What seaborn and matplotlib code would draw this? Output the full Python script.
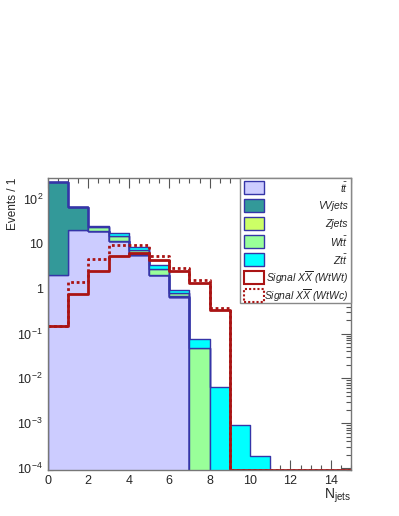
import numpy as np
import pandas as pd
import matplotlib
matplotlib.use("Agg")
import matplotlib.pyplot as plt
import seaborn as sns
from matplotlib.patches import Rectangle
from matplotlib.ticker import MultipleLocator, FuncFormatter, LogLocator, NullFormatter

# jet multiplicity bins 0..14 (bin width 1)
njets = np.arange(0, 15) + 0.5

# backgrounds (stacked, bottom to top)
ttbar = [2.0, 20.5, 19.0, 11.4, 5.6, 2.0, 0.66, 0, 0, 0, 0, 0, 0, 0, 0]
vvjets = [238, 46, 0.3, 0.1, 0.05, 0.02, 0.01, 0, 0, 0, 0, 0, 0, 0, 0]
zjets = [0, 0, 0.4, 0.4, 0.4, 0.05, 0.02, 0, 0, 0, 0, 0, 0, 0, 0]
wtt = [0, 0, 4.0, 3.2, 1.4, 0.7, 0.13, 0.047, 0, 0, 0, 0, 0, 0, 0]
ztt = [0, 0, 1.0, 2.3, 1.2, 0.55, 0.13, 0.028, 0.0064, 0.00092, 0.000187, 0, 0, 0, 0]

# signals
sig_wtwt = [0.144, 0.77, 2.52, 5.4, 6.2, 4.44, 2.48, 1.34, 0.33, 0, 0, 0, 0, 0, 0]
sig_wtwc = [0.144, 1.41, 4.67, 9.5, 9.5, 5.4, 2.95, 1.59, 0.38, 0, 0, 0, 0, 0, 0]

bkg_names = ["ttbar", "VVjets", "Zjets", "Wtt", "Ztt"]
bkg_labels = [r"$t\bar{t}$", "VVjets", "Zjets", r"$Wt\bar{t}$", r"$Zt\bar{t}$"]
bkg_colors = ["#ccccff", "#339999", "#ccff66", "#99ff99", "#00ffff"]
sig_labels = [r"Signal $X\overline{X}$ (WtWt)", r"Signal $X\overline{X}$ (WtWc)"]
edge_col = "#3535a8"
sig_col = "#aa1414"
dots = (0, (1, 1))

ymin, ymax = 9e-5, 295

sns.set_style("ticks")
plt.rcParams["font.family"] = ["Liberation Sans", "DejaVu Sans"]
plt.rcParams["mathtext.fontset"] = "custom"
plt.rcParams["mathtext.rm"] = "Liberation Sans"
plt.rcParams["mathtext.it"] = "Liberation Sans:italic"

rows = []
for name, vals in zip(bkg_names, [ttbar, vvjets, zjets, wtt, ztt]):
    for x, w in zip(njets, vals):
        rows.append({"njets": x, "weight": w, "process": name})
df = pd.DataFrame(rows)

fig = plt.figure(figsize=(3.99, 5.16), dpi=100)
ax = fig.add_axes([0.12, 0.089, 0.76, 0.566])

sns.histplot(data=df, x="njets", weights="weight", hue="process",
             hue_order=bkg_names[::-1], multiple="stack", binwidth=1, binrange=(0, 15),
             element="step", palette=dict(zip(bkg_names, bkg_colors)),
             alpha=1, edgecolor=edge_col, linewidth=1, legend=False, ax=ax)

sig_df = pd.DataFrame({"njets": njets,
                       "wtwt": np.maximum(sig_wtwt, ymin * 1.02),
                       "wtwc": np.maximum(sig_wtwc, ymin * 1.02)})
sns.histplot(data=sig_df, x="njets", weights="wtwc", binwidth=1, binrange=(0, 15),
             element="step", fill=False, color=sig_col, linewidth=2,
             linestyle=dots, ax=ax)
sns.histplot(data=sig_df, x="njets", weights="wtwt", binwidth=1, binrange=(0, 15),
             element="step", fill=False, color=sig_col, linewidth=2, ax=ax)

ax.set_yscale("log")
ax.set_xlim(0, 15)
ax.set_ylim(ymin, ymax)

ax.xaxis.set_major_locator(MultipleLocator(2))
ax.xaxis.set_minor_locator(MultipleLocator(0.5))
ax.yaxis.set_major_locator(LogLocator(base=10, numticks=20))
ax.yaxis.set_minor_locator(LogLocator(base=10, subs=np.arange(2, 10), numticks=20))
ax.yaxis.set_minor_formatter(NullFormatter())


def ylab(v, pos):
    e = int(round(np.log10(v)))
    if e == 0:
        return "1"
    if e == 1:
        return "10"
    return r"10$^{%d}$" % e


ax.yaxis.set_major_formatter(FuncFormatter(ylab))
ax.tick_params(which="both", direction="in", top=True, right=True, labelsize=9,
               color="#555555")
ax.tick_params(which="major", length=7, width=0.8)
ax.tick_params(which="minor", length=3.5, width=0.8)
for s in ax.spines.values():
    s.set_color("#777777")
    s.set_linewidth(1)

ax.set_xlabel(r"N$_{\rm jets}$", loc="right", fontsize=10, labelpad=0)
ax.set_ylabel("Events / 1", loc="top", fontsize=8.5, labelpad=-1)

# legend box, ROOT style: swatch on the left, label right-aligned
ax.add_patch(Rectangle((0.634, 0.572), 0.366, 0.428, transform=ax.transAxes,
                       facecolor="white", edgecolor="#888888", linewidth=1,
                       zorder=10, clip_on=False))
faces = bkg_colors + ["white", "white"]
edges = [edge_col] * 5 + [sig_col, sig_col]
styles = ["-"] * 6 + [dots]
widths = [1] * 5 + [1.5, 1.5]
labels = bkg_labels + sig_labels
pitch = 18.0 / 292
for i in range(7):
    yc = 0.967 - i * pitch
    ax.add_patch(Rectangle((0.647, yc - 0.0218), 0.066, 0.0436, transform=ax.transAxes,
                           facecolor=faces[i], edgecolor=edges[i], linewidth=widths[i],
                           linestyle=styles[i], zorder=11, clip_on=False))
    ax.text(0.99, yc, labels[i], transform=ax.transAxes, ha="right", va="center",
            fontsize=7.5, fontstyle="italic", zorder=12)

fig.savefig("out.png", dpi=100)
